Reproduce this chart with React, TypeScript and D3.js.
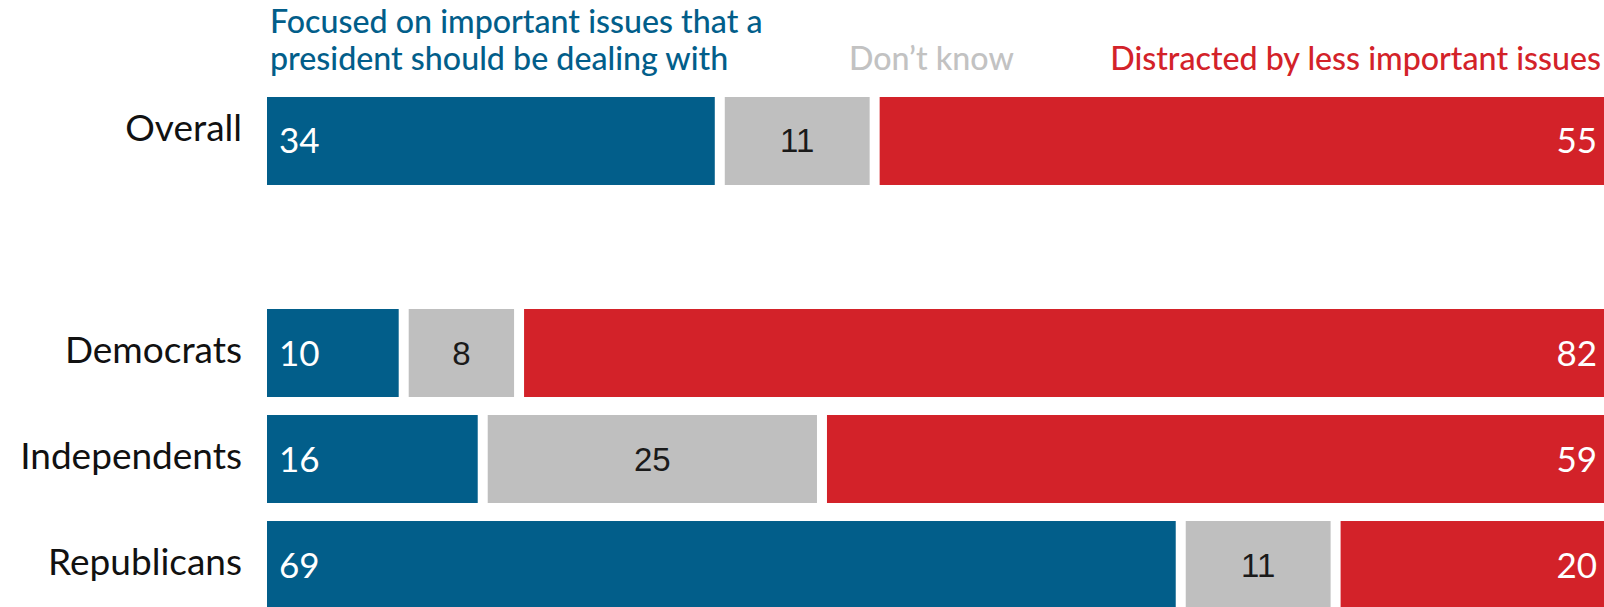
import React from "react";
import * as d3 from "d3";

const categories = ["Overall", "", "Democrats", "Independents", "Republicans"];
const focused: (number | null)[] = [34, null, 10, 16, 69];
const dontKnow: (number | null)[] = [11, null, 8, 25, 11];
const distracted: (number | null)[] = [55, null, 82, 59, 20];
const legendFocusedLines = ["Focused on important issues that a", "president should be dealing with"];
const legendDontKnow = "Don’t know";
const legendDistracted = "Distracted by less important issues";

const W = 1604;
const H = 607;
const BLUE = "#025e8a";
const GRAY = "#bfbfbf";
const RED = "#d32229";
const GAP = 10;
const SANS = "Lato, 'Open Sans', sans-serif";

export default function App() {
  const x = d3.scaleLinear().domain([0, 100]).range([267, W - 2 * GAP]);
  const y = d3
    .scaleBand<number>()
    .domain(d3.range(categories.length))
    .range([97, 609])
    .paddingInner(0.17)
    .paddingOuter(0);
  const bw = y.bandwidth();

  const rows = categories.map((c, i) => ({
    cat: c,
    vals: [focused[i], dontKnow[i], distracted[i]],
    i,
  }));

  return (
    <svg
      width={W}
      height={H}
      style={{ position: "absolute", left: 0, top: 0, display: "block", background: "#fff" }}
    >
      {/* Legend */}
      <g fontFamily={SANS} fontSize={32.2} fontWeight={500}>
        {legendFocusedLines.map((l, k) => (
          <text key={k} x={270} y={33 + k * 37} fill={BLUE}>
            {l}
          </text>
        ))}
        <text x={849} y={70} fill="#c2c2c2">
          {legendDontKnow}
        </text>
        <text x={1601} y={70} fill={RED} textAnchor="end">
          {legendDistracted}
        </text>
      </g>

      {rows.map((r) => {
        if (r.vals[0] == null) return null;
        const top = y(r.i)!;
        const cy = top + bw / 2;
        const vb = cy + 12.5;
        let cum = 0;
        const segs = r.vals.map((v, k) => {
          const x0 = x(cum) + k * GAP;
          cum += v as number;
          const x1 = k === 2 ? W : x(cum) + k * GAP;
          return { v: v as number, x0, x1, k };
        });
        return (
          <g key={r.i}>
            <text
              x={242}
              y={r.i === 0 ? cy + 0.5 : cy + 10}
              textAnchor="end"
              fontFamily={SANS}
              fontSize={37}
              fill="#111"
            >
              {r.cat}
            </text>
            {segs.map((s) => (
              <rect
                key={s.k}
                x={s.x0}
                y={top}
                width={s.x1 - s.x0}
                height={bw}
                fill={[BLUE, GRAY, RED][s.k]}
              />
            ))}
            {segs.map((s) => {
              if (s.k === 0)
                return (
                  <text key={"t" + s.k} x={s.x0 + 12} y={vb} fill="#fff" fontFamily={SANS} fontSize={35}>
                    {s.v}
                  </text>
                );
              if (s.k === 1)
                return (
                  <text
                    key={"t" + s.k}
                    x={(s.x0 + s.x1) / 2}
                    y={vb - 1}
                    fill="#1a1a1a"
                    textAnchor="middle"
                    fontFamily="'Liberation Sans', Arial, sans-serif"
                    fontSize={33}
                  >
                    {s.v}
                  </text>
                );
              return (
                <text
                  key={"t" + s.k}
                  x={s.x1 - 7}
                  y={vb}
                  fill="#fff"
                  textAnchor="end"
                  fontFamily={SANS}
                  fontSize={35}
                >
                  {s.v}
                </text>
              );
            })}
          </g>
        );
      })}
    </svg>
  );
}
